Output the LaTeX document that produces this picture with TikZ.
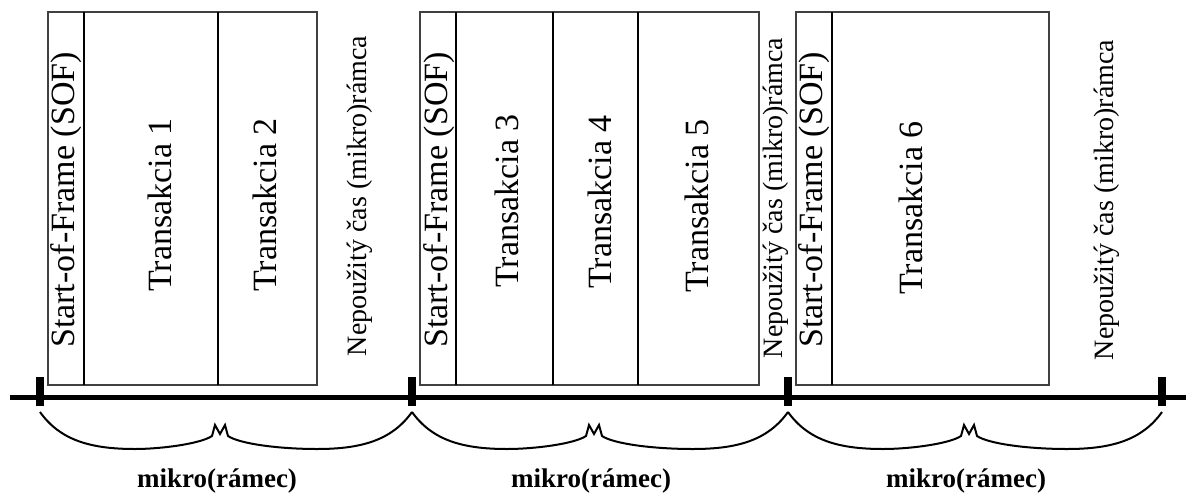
\documentclass[tikz,border=0pt]{standalone}
\usepackage{fontspec}
\setmainfont{Liberation Serif}
\usetikzlibrary{positioning,calc}

\begin{document}
\begin{tikzpicture}[x=0.5pt,y=-0.5pt,
    frame/.style={draw=black!75,line width=0.6pt},
    divider/.style={line width=1.2pt},
    field/.style={rotate=90,font=\fontsize{17}{17}\selectfont,inner sep=0pt},
    idle/.style={rotate=90,font=\fontsize{14}{14}\selectfont,inner sep=0pt},
    slot/.style={font=\bfseries\fontsize{13.5}{13.5}\selectfont,inner sep=0pt},
    tickmark/.style={line width=4pt},
    axis/.style={line width=2.5pt},
    curly/.style={line width=1pt}]
    \useasboundingbox (0,0) rectangle (1186,492);

    \draw[frame] (48,12) rectangle (317,385);
    \draw[frame] (420,12) rectangle (759,385);
    \draw[frame] (796,12) rectangle (1049,385);
    \foreach \x in {84,218,456,553,638,832}
        \draw[divider] (\x,12) -- (\x,385);

    \node[field] (sof1) at (66,200) {Start-of-Frame (SOF)};
    \node[field] (tr1) at (160,205) {Transakcia 1};
    \node[field] (tr2) at (265,205) {Transakcia 2};
    \node[idle] (idle1) at (360,196) {Nepoužitý čas (mikro)rámca};

    \node[field] (sof2) at (439,200) {Start-of-Frame (SOF)};
    \node[field] (tr3) at (507,201) {Transakcia 3};
    \node[field] (tr4) at (600,202) {Transakcia 4};
    \node[field] (tr5) at (697,206) {Transakcia 5};
    \node[idle] (idle2) at (776,198) {Nepoužitý čas (mikro)rámca};

    \node[field] (sof3) at (814,200) {Start-of-Frame (SOF)};
    \node[field] (tr6) at (911,208) {Transakcia 6};
    \node[idle] (idle3) at (1107,200) {Nepoužitý čas (mikro)rámca};

    \coordinate (start) at (10,397);
    \coordinate (stop) at (1186,397);
    \draw[axis] (start) -- (stop);
    \foreach \x in {40,412,788,1162}
        \draw[tickmark] (\x,377) -- (\x,406);

    \foreach \a/\b [count=\i] in {40/412,412/788,788/1162}{
        \pgfmathsetmacro\m{(\a+\b)/2-6}
        \draw[curly] (\a,412) .. controls (\a+20,440) and (\a+50,449) .. (\a+95,449)
            .. controls (\m-60,449) and (\m-20,444) .. (\m-8,436)
            -- (\m-5,425) -- (\m,434) -- (\m+5,425) -- (\m+8,436)
            .. controls (\m+20,444) and (\m+60,449) .. (\b-95,449)
            .. controls (\b-50,449) and (\b-20,440) .. (\b,412);
        \node[slot,anchor=base] (frame\i) at (\m-3,487) {mikro(rámec)};
    }
\end{tikzpicture}
\end{document}
